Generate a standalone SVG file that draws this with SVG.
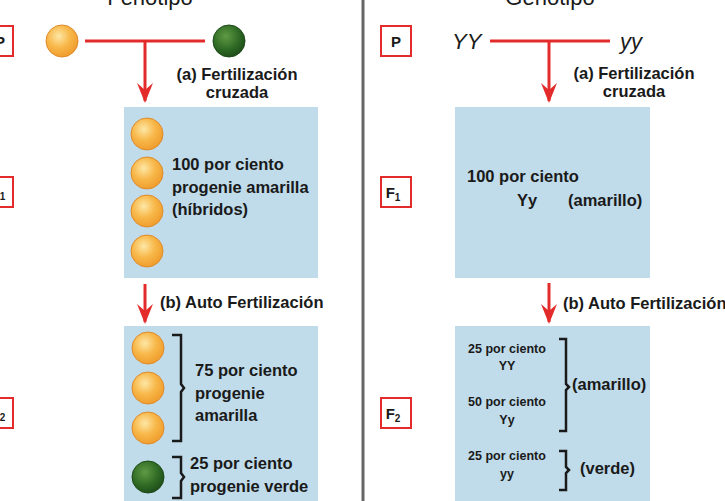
<svg xmlns="http://www.w3.org/2000/svg" width="725" height="501" viewBox="0 0 725 501">
<defs>
<radialGradient id="yel" cx="0.4" cy="0.35" r="0.7"><stop offset="0" stop-color="#fde7a6"/><stop offset="0.5" stop-color="#f8b84a"/><stop offset="1" stop-color="#ee9a2a"/></radialGradient>
<radialGradient id="grn" cx="0.4" cy="0.35" r="0.7"><stop offset="0" stop-color="#5f9a44"/><stop offset="0.6" stop-color="#2f6a25"/><stop offset="1" stop-color="#1d4a18"/></radialGradient>
<marker id="ah" markerWidth="20" markerHeight="16" refX="18" refY="8" orient="auto" markerUnits="userSpaceOnUse" viewBox="0 0 20 16"><path d="M0,0 L7,8 L0,16 L20,8 Z" fill="#e32b2b"/></marker>
</defs>
<style>
text{font-family:"Liberation Sans",Arial,sans-serif;fill:#1a1a1a}
.t{font-size:16.5px;font-weight:bold}
.s{font-size:12.5px;font-weight:bold}
.g{font-size:22px;font-style:italic}
.h{font-size:22px}
.lb{fill:#fff;stroke:#e32b2b;stroke-width:2}
.lt{font-size:15px;font-weight:bold}
.box{fill:#c0dcea}
.ln{stroke:#e32b2b;stroke-width:3;fill:none}
.y{fill:url(#yel);stroke:#e08a2a;stroke-width:1}
.gr{fill:url(#grn);stroke:#1d4a18;stroke-width:1}
.br{fill:none;stroke:#1a1a1a;stroke-width:2.5}
</style>
<line x1="363" y1="0" x2="363" y2="501" stroke="#666" stroke-width="3"/>
<text class="h" x="150" y="5" text-anchor="middle">Fenotipo</text>
<text class="h" x="550" y="5" text-anchor="middle">Genotipo</text>
<g id="labels-left">
<rect class="lb" x="-12" y="26" width="25" height="30"/><text class="lt" x="0" y="47" text-anchor="middle">P</text>
<rect class="lb" x="-12" y="177" width="25" height="30"/><text class="lt" x="-2" y="197" text-anchor="middle">F<tspan font-size="10" dy="3">1</tspan></text>
<rect class="lb" x="-12" y="398" width="25" height="30"/><text class="lt" x="-2" y="418" text-anchor="middle">F<tspan font-size="10" dy="3">2</tspan></text>
</g>
<g id="labels-right">
<rect class="lb" x="381" y="26" width="30" height="30"/><text class="lt" x="396" y="47" text-anchor="middle">P</text>
<rect class="lb" x="381" y="177" width="30" height="30"/><text class="lt" x="393" y="198" text-anchor="middle">F<tspan font-size="10" dy="3">1</tspan></text>
<rect class="lb" x="381" y="398" width="30" height="30"/><text class="lt" x="393" y="419" text-anchor="middle">F<tspan font-size="10" dy="3">2</tspan></text>
</g>
<g id="parents-left">
<circle class="y" cx="62" cy="41" r="16"/>
<circle class="gr" cx="229" cy="41" r="16"/>
</g>
<g id="parents-right">
<text class="g" x="452" y="49">YY</text>
<text class="g" x="620" y="49">yy</text>
</g>
<g id="connectors">
<line class="ln" x1="85" y1="41" x2="205" y2="41"/>
<line class="ln" x1="145" y1="41" x2="145" y2="101" marker-end="url(#ah)"/>
<line class="ln" x1="145" y1="284" x2="145" y2="322" marker-end="url(#ah)"/>
<line class="ln" x1="490" y1="41" x2="610" y2="41"/>
<line class="ln" x1="549" y1="41" x2="549" y2="101" marker-end="url(#ah)"/>
<line class="ln" x1="549" y1="283" x2="549" y2="322" marker-end="url(#ah)"/>
</g>
<g id="edge-labels">
<text class="t" x="237" y="80" text-anchor="middle">(a) Fertilización</text>
<text class="t" x="237" y="98" text-anchor="middle">cruzada</text>
<text class="t" x="160" y="308">(b) Auto Fertilización</text>
<text class="t" x="634" y="79" text-anchor="middle">(a) Fertilización</text>
<text class="t" x="634" y="97" text-anchor="middle">cruzada</text>
<text class="t" x="563" y="309">(b) Auto Fertilización</text>
</g>
<g id="f1-left">
<rect class="box" x="124" y="107" width="194" height="171"/>
<circle class="y" cx="147" cy="134" r="16"/>
<circle class="y" cx="147" cy="173" r="16"/>
<circle class="y" cx="147" cy="211" r="16"/>
<circle class="y" cx="147" cy="251" r="16"/>
<text class="t" x="172" y="170">100 por ciento</text>
<text class="t" x="172" y="193">progenie amarilla</text>
<text class="t" x="172" y="215">(híbridos)</text>
</g>
<g id="f2-left">
<rect class="box" x="124" y="326" width="194" height="180"/>
<circle class="y" cx="148" cy="348" r="16"/>
<circle class="y" cx="148" cy="388" r="16"/>
<circle class="y" cx="148" cy="428" r="16"/>
<circle class="gr" cx="148" cy="477" r="16"/>
<path class="br" d="M172,335 H181 V384 L184,388 L181,392 V441 H172"/>
<path class="br" d="M172,457 H181 V473 L184,477 L181,481 V498 H172"/>
<text class="t" x="195" y="376">75 por ciento</text>
<text class="t" x="195" y="399">progenie</text>
<text class="t" x="195" y="421">amarilla</text>
<text class="t" x="190" y="469">25 por ciento</text>
<text class="t" x="190" y="492">progenie verde</text>
</g>
<g id="f1-right">
<rect class="box" x="455" y="107" width="195" height="171"/>
<text class="t" x="467" y="182">100 por ciento</text>
<text class="t" x="517" y="206">Yy</text>
<text class="t" x="568" y="206" font-weight="normal">(amarillo)</text>
</g>
<g id="f2-right">
<rect class="box" x="455" y="326" width="195" height="180"/>
<text class="s" x="507" y="353" text-anchor="middle">25 por ciento</text>
<text class="s" x="507" y="370" text-anchor="middle">YY</text>
<text class="s" x="507" y="406" text-anchor="middle">50 por ciento</text>
<text class="s" x="507" y="424" text-anchor="middle">Yy</text>
<text class="s" x="507" y="460" text-anchor="middle">25 por ciento</text>
<text class="s" x="507" y="478" text-anchor="middle">yy</text>
<path class="br" d="M559,339 H566 V384 L569,387 L566,390 V431 H559"/>
<path class="br" d="M559,451 H566 V467 L569,470 L566,473 V490 H559"/>
<text class="t" x="572" y="390" font-weight="normal">(amarillo)</text>
<text class="t" x="580" y="474" font-weight="normal">(verde)</text>
</g>
</svg>
